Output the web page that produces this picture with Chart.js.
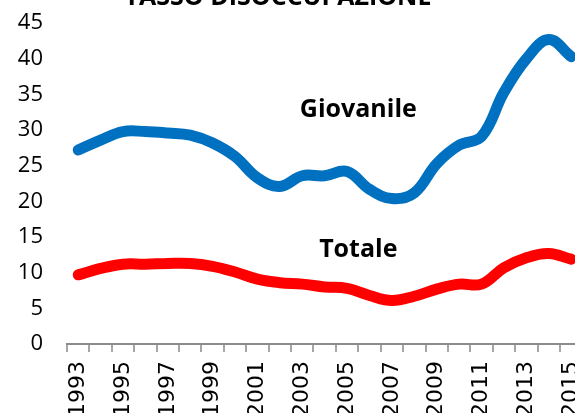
<!DOCTYPE html>
<html>
<head>
<meta charset="utf-8">
<script src="https://cdn.jsdelivr.net/npm/chart.js@4.4.1/dist/chart.umd.min.js"></script>
<style>
  html, body { margin: 0; padding: 0; background: #fff; }
  #wrap { position: relative; width: 575px; height: 413px; overflow: hidden; }
  #wrap canvas { position: absolute; left: 0; top: -14px; }
</style>
</head>
<body>
<div id="wrap"><canvas id="disoccChart" width="607" height="441"></canvas></div>
<script>
// dati
const years = ['1993','1994','1995','1996','1997','1998','1999','2000','2001','2002','2003','2004',
               '2005','2006','2007','2008','2009','2010','2011','2012','2013','2014','2015'];
const giovanile = [27.2, 28.6, 29.8, 29.8, 29.6, 29.3, 28.2, 26.3, 23.3, 22.1, 23.6, 23.6,
                   24.2, 21.7, 20.4, 21.2, 25.3, 27.9, 29.1, 35.3, 40.0, 42.7, 40.3];
const totale = [9.7, 10.6, 11.2, 11.2, 11.3, 11.3, 10.9, 10.1, 9.1, 8.6, 8.4, 8.0,
                7.8, 6.8, 6.1, 6.7, 7.7, 8.4, 8.4, 10.7, 12.1, 12.7, 11.9];
const yTicks = [0, 5, 10, 15, 20, 25, 30, 35, 40, 45];

const FONT = '"Open Sans", Lato, sans-serif';

// titolo + etichette delle serie
const textPlugin = {
    id: 'textPlugin',
    afterDraw(chart) {
        const ctx = chart.ctx;
        const x = chart.scales.x, y = chart.scales.y;
        ctx.save();
        ctx.fillStyle = '#000';
        ctx.textAlign = 'center';
        ctx.textBaseline = 'alphabetic';
        ctx.font = 'bold 25px ' + FONT;
        ctx.fillText('TASSO DISOCCUPAZIONE', 278, 19);
        const xm = (x.getPixelForValue(12) + x.getPixelForValue(13)) / 2;
        ctx.fillText('Giovanile', xm, y.getPixelForValue(31.9));
        ctx.fillText('Totale', xm, y.getPixelForValue(12.2));
        ctx.restore();
    }
};

const ctx = document.getElementById('disoccChart').getContext('2d');
const disoccChart = new Chart(ctx, {
    type: 'line',
    data: {
        labels: years,
        datasets: [{
            label: 'Giovanile',
            data: giovanile,
            borderColor: '#0070C0',
            borderWidth: 11,
            borderCapStyle: 'round',
            borderJoinStyle: 'round',
            tension: 0.4,
            pointRadius: 0,
            clip: false
        }, {
            label: 'Totale',
            data: totale,
            borderColor: '#FF0000',
            borderWidth: 11,
            borderCapStyle: 'round',
            borderJoinStyle: 'round',
            tension: 0.4,
            pointRadius: 0,
            clip: false
        }]
    },
    options: {
        responsive: false,
        animation: false,
        layout: { padding: { top: 9, left: 0, right: 20, bottom: 0 } },
        plugins: {
            legend: { display: false },
            title: { display: false },
            tooltip: { enabled: false }
        },
        scales: {
            x: {
                offset: true,
                afterFit: (scale) => { scale.height = 83; },
                border: { display: true, color: '#8c8c8c', width: 2 },
                grid: {
                    offset: true,
                    drawOnChartArea: false,
                    drawTicks: true,
                    tickLength: 8,
                    color: '#a6a6a6',
                    lineWidth: 2
                },
                ticks: {
                    autoSkip: false,
                    maxRotation: 90,
                    minRotation: 90,
                    padding: 9,
                    color: '#000',
                    font: { family: '"DejaVu Sans", sans-serif', size: 22 },
                    callback: function (val, i) { return i % 2 === 0 ? years[i] : ''; }
                }
            },
            y: {
                min: 0,
                max: 45,
                afterFit: (scale) => { scale.width = 67; },
                afterBuildTicks: (scale) => { scale.ticks = yTicks.map(v => ({ value: v })); },
                border: { display: false },
                grid: { display: false, drawTicks: false },
                ticks: {
                    padding: 24,
                    color: '#000',
                    font: { family: FONT, size: 22 }
                }
            }
        }
    },
    plugins: [textPlugin]
});
</script>
</body>
</html>
